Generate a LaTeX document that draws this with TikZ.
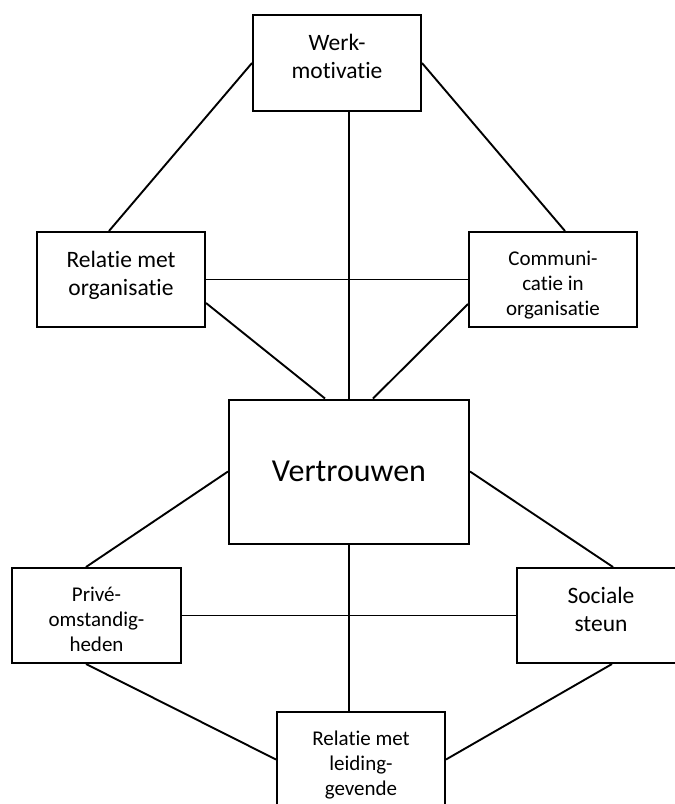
\documentclass[tikz,border=0pt]{standalone}
\usepackage{fontspec}
\setmainfont{Carlito}[Ligatures={NoCommon,NoContextual}]
\usetikzlibrary{positioning,calc}

\begin{document}
\begin{tikzpicture}[
  x=1pt, y=-1pt,
  box/.style={draw, line width=2pt, minimum width=168pt, minimum height=95pt},
  txt/.style={anchor=north, align=center, inner sep=2pt, yshift=-18pt},
  big/.style={font=\fontsize{23.5}{28}\selectfont},
  small/.style={font=\fontsize{21}{25}\selectfont},
  link/.style={line width=1.9pt}
]

\useasboundingbox (0,0) rectangle (675,804);
\clip (0,0) rectangle (675,804);

% ---------- nodes ----------
\node[box, minimum width=240pt, minimum height=144pt, font=\fontsize{32}{38}\selectfont] (trust) at (349,471.5) {Vertrouwen};
\node[box, minimum height=96pt, label={[txt, big, name=werktxt]north:{Werk-\\motivatie}}] (werk) at (337,63) {};
\node[box, label={[txt, big, name=relorgtxt]north:{Relatie met\\organisatie}}] (relorg) at (121,279.5) {};
\node[box, label={[txt, small, name=commtxt]north:{Communi-\\catie in\\organisatie}}] (comm) at (553,279.5) {};
\node[box, minimum width=169pt, label={[txt, small, name=privetxt]north:{Privé-\\omstandig-\\heden}}] (prive) at (96.5,615.5) {};
\node[box, label={[txt, big, name=sociaaltxt]north:{Sociale\\steun}}] (sociaal) at (601,615.5) {};
\node[box, label={[txt, small, name=leidtxt]north:{Relatie met\\leiding-\\gevende}}] (leid) at (361,759.5) {};

% ---------- links ----------
\draw[link] (werk.west) -- ($(relorg.north)+(-12,0)$);
\draw[link] (werk.east) -- ($(comm.north)+(12,0)$);
\draw[link] (trust.north) -- (trust.north |- werk.south);
\draw[link] (relorg.east) -- (comm.west);
\draw[link] ($(relorg.east)+(0,23.5)$) -- ($(trust.north)+(-24,0)$);
\draw[link] ($(comm.west)+(0,24.5)$) -- ($(trust.north)+(24,0)$);
\draw[link] (trust.west) -- ($(prive.north)+(-10.5,0)$);
\draw[link] (trust.east) -- ($(sociaal.north)+(12,0)$);
\draw[link] (prive.east) -- (sociaal.west);
\draw[link] (trust.south) -- (trust.south |- leid.north);
\draw[link] ($(prive.south)+(-10.5,0)$) -- (leid.west);
\draw[link] ($(sociaal.south)+(11,0)$) -- (leid.east);
\end{tikzpicture}
\end{document}
